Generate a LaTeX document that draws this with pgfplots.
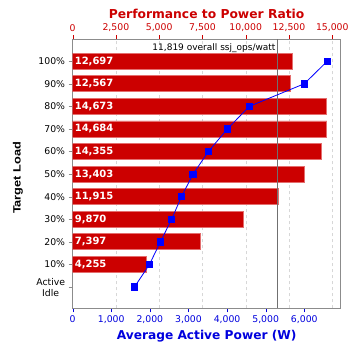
\documentclass[border=0pt]{standalone}
\usepackage{pgfplots}
\usepackage{pgfplotstable}
\pgfplotsset{compat=1.18}
\usepackage{fontspec}
\setmainfont{DejaVu Sans}
\newfontfamily\labfont{Liberation Sans}
\definecolor{barred}{RGB}{204,0,0}
\definecolor{baredge}{RGB}{228,110,110}
\definecolor{txtred}{RGB}{204,0,0}
\definecolor{txtblue}{RGB}{0,0,221}
\definecolor{axgray}{RGB}{140,140,140}
\definecolor{gridgray}{RGB}{215,215,215}

\pgfplotstableread{
y perf
10 12697
9 12567
8 14673
7 14684
6 14355
5 13403
4 11915
3 9870
2 7397
1 4255
}\perfdata

\pgfplotstableread{
y power
10 6595
9 6000
8 4577
7 4008
6 3516
5 3120
4 2818
3 2564
2 2274
1 1990
0 1602
}\powerdata

\begin{document}
\begin{tikzpicture}
\begin{axis}[
  at={(72.6pt,39.5pt)}, anchor=south west,
  scale only axis, width=268pt, height=269pt,
  xmin=0, xmax=15480, ymin=-0.95, ymax=10.96,
  axis line style={axgray},
  xtick={0,2500,...,15000},
  scaled x ticks=false,
  xtick pos=right, xticklabel pos=right,
  xticklabel style={text=txtred, font=\fontsize{9.3}{10}\selectfont},
  x tick style={txtred},
  tick align=outside, major tick length=4pt,
  ytick={0,...,10},
  yticklabels={{Active\\Idle},10\%,20\%,30\%,40\%,50\%,60\%,70\%,80\%,90\%,100\%},
  ytick pos=left,
  y tick style={axgray},
  yticklabel style={align=center, font=\fontsize{9.3}{11}\selectfont},
  xmajorgrids, grid style={gridgray, dashed},
  /pgf/number format/.cd, 1000 sep={,}, assume math mode=true,
]
\addplot[xbar, bar width=16pt, fill=barred, draw=baredge, line width=0.8pt] table[x=perf,y=y]{\perfdata};
\addplot[draw=none,
  nodes near coords={\pgfmathprintnumber[fixed, precision=0, 1000 sep={,}, assume math mode=true]{\pgfplotspointmeta}},
  point meta=\thisrow{perf},
  nodes near coords style={anchor=west, text=white, font=\bfseries\fontsize{10}{12}\selectfont, inner xsep=2pt}]
  table[x expr=0, y=y]{\perfdata};
\addplot[axgray!80!black, line width=0.8pt] coordinates {(11819,-0.95) (11819,10.96)};
\node[anchor=north east, font=\fontsize{9}{10}\selectfont, inner xsep=1.5pt, inner ysep=3.8pt] at (axis cs:11819,10.96) {11,819 overall ssj\_ops/watt};
\end{axis}
\begin{axis}[
  at={(72.6pt,39.5pt)}, anchor=south west,
  scale only axis, width=268pt, height=269pt,
  xmin=0, xmax=6940, ymin=-0.95, ymax=10.96,
  axis x line*=bottom, axis y line=none,
  x axis line style={axgray},
  xtick={0,1000,...,6000},
  scaled x ticks=false,
  xticklabel style={text=txtblue, font=\fontsize{9.3}{10}\selectfont},
  x tick style={txtblue},
  tick align=outside, major tick length=4pt,
  /pgf/number format/.cd, 1000 sep={,}, assume math mode=true,
]
\addplot[blue, line width=0.8pt, mark=square*, mark size=3.2pt, mark options={fill=blue, draw=blue}] table[x=power,y=y]{\powerdata};
\end{axis}
\node[anchor=base, font=\bfseries\fontsize{12.3}{14}\selectfont, text=txtred] at (206.6pt,329.7pt) {Performance to Power Ratio};
\node[anchor=base, font=\bfseries\fontsize{12.2}{14}\selectfont, text=txtblue] at (206.6pt,9pt) {Average Active Power (W)};
\node[rotate=90, anchor=base, font=\labfont\bfseries\fontsize{10.6}{13}\selectfont] at (20.5pt,170pt) {\scalebox{1.2}[1]{Target Load}};
\pgfresetboundingbox
\useasboundingbox (0,0) rectangle (348pt,348pt);
\end{tikzpicture}
\end{document}
